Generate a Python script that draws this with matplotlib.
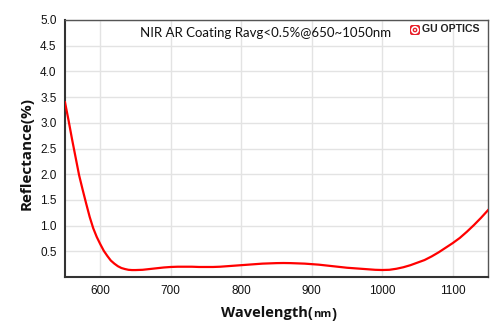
import matplotlib
matplotlib.use("Agg")
import matplotlib.pyplot as plt
from matplotlib.patches import FancyBboxPatch, Circle

wavelength = [550, 555, 560, 565, 570, 575, 580, 585, 590, 595, 600, 605, 610, 615, 620,
              625, 630, 635, 640, 645, 650, 660, 670, 680, 690, 700, 710, 720, 730, 740,
              750, 760, 770, 780, 790, 800, 810, 820, 830, 840, 850, 860, 870, 880, 890,
              900, 910, 920, 930, 940, 950, 960, 970, 980, 990, 1000, 1010, 1020, 1030,
              1040, 1050, 1060, 1070, 1080, 1090, 1100, 1110, 1120, 1130, 1140, 1150]
reflectance = [3.40, 3.05, 2.68, 2.33, 1.98, 1.70, 1.43, 1.17, 0.95, 0.78, 0.64, 0.51, 0.41,
               0.32, 0.26, 0.21, 0.175, 0.155, 0.14, 0.135, 0.135, 0.14, 0.155, 0.17, 0.185,
               0.195, 0.20, 0.20, 0.20, 0.195, 0.195, 0.195, 0.20, 0.21, 0.22, 0.23, 0.24,
               0.25, 0.26, 0.265, 0.27, 0.272, 0.27, 0.265, 0.26, 0.25, 0.24, 0.225, 0.21,
               0.195, 0.18, 0.17, 0.16, 0.15, 0.14, 0.136, 0.14, 0.16, 0.19, 0.23, 0.28,
               0.33, 0.40, 0.48, 0.57, 0.66, 0.76, 0.88, 1.01, 1.15, 1.30]

x_ticks = [600, 700, 800, 900, 1000, 1100]
y_ticks = [0.5, 1.0, 1.5, 2.0, 2.5, 3.0, 3.5, 4.0, 4.5, 5.0]
title_text = "NIR AR Coating Ravg<0.5%@650~1050nm"
brand_text = "GU OPTICS"

W, H = 500, 334
fig = plt.figure(figsize=(5, 3.34), dpi=100)
ax = fig.add_axes([65 / W, (H - 277) / H, (488 - 65) / W, (277 - 20) / H])

ax.plot(wavelength, reflectance, color="#ff0000", lw=1.6, zorder=3)
ax.set_xlim(550, 1150)
ax.set_ylim(0, 5.0)
ax.set_xticks(x_ticks)
ax.set_yticks(y_ticks)
ax.set_xticklabels([str(v) for v in x_ticks], fontfamily="Liberation Sans", fontsize=8.5)
ax.set_yticklabels([f"{v:.1f}" for v in y_ticks], fontfamily="Liberation Sans", fontsize=8.5)
ax.tick_params(length=0, pad=6, colors="#111111")
ax.grid(True, color="#e3e3e3", lw=1.0)
ax.set_axisbelow(True)
for side in ["left", "bottom"]:
    ax.spines[side].set_color("#333333")
    ax.spines[side].set_linewidth(1.5)
for side in ["top", "right"]:
    ax.spines[side].set_color("#555555")
    ax.spines[side].set_linewidth(1.0)

# text placed in pixel coordinates (origin bottom-left)
ax.text(140, H - 33, title_text, transform=None, fontfamily="Lato", fontsize=9.5,
        va="center", ha="left", color="#111111")

# brand logo
ax.add_patch(FancyBboxPatch((410, H - 35), 10, 10, boxstyle="round,pad=0,rounding_size=2",
                            transform=None, facecolor="#e8202a", edgecolor="none",
                            clip_on=False, zorder=5))
ax.add_patch(Circle((415, H - 30), 3.2, transform=None, facecolor="none",
                    edgecolor="white", lw=1.2, clip_on=False, zorder=6))
ax.add_patch(Circle((415, H - 30), 1.0, transform=None, facecolor="white",
                    edgecolor="none", clip_on=False, zorder=6))
ax.text(421.5, H - 29.5, brand_text, transform=None, fontfamily="Liberation Sans",
        fontweight="bold", fontsize=7.6, va="center", ha="left", color="#222222")

fig.text(27 / W, 1 - 153 / H, "Reflectance(%)", rotation=90, ha="center", va="center",
         fontfamily="Open Sans", fontweight="bold", fontsize=11, color="#111111")

t1 = fig.text(221 / W, 1 - 317 / H, "Wavelength(", ha="left", va="baseline",
              fontfamily="Open Sans", fontweight="bold", fontsize=10.5, color="#111111")
a2 = ax.annotate("nm", xy=(1, 0), xycoords=t1, ha="left", va="bottom",
                 fontfamily="Open Sans", fontweight="bold", fontsize=8, color="#111111",
                 annotation_clip=False)
a3 = ax.annotate(")", xy=(1, 0), xycoords=a2, ha="left", va="bottom",
                 xytext=(0, -1), textcoords="offset points",
                 fontfamily="Open Sans", fontweight="bold", fontsize=10.5, color="#111111",
                 annotation_clip=False)

fig.savefig("out.png", dpi=100)
